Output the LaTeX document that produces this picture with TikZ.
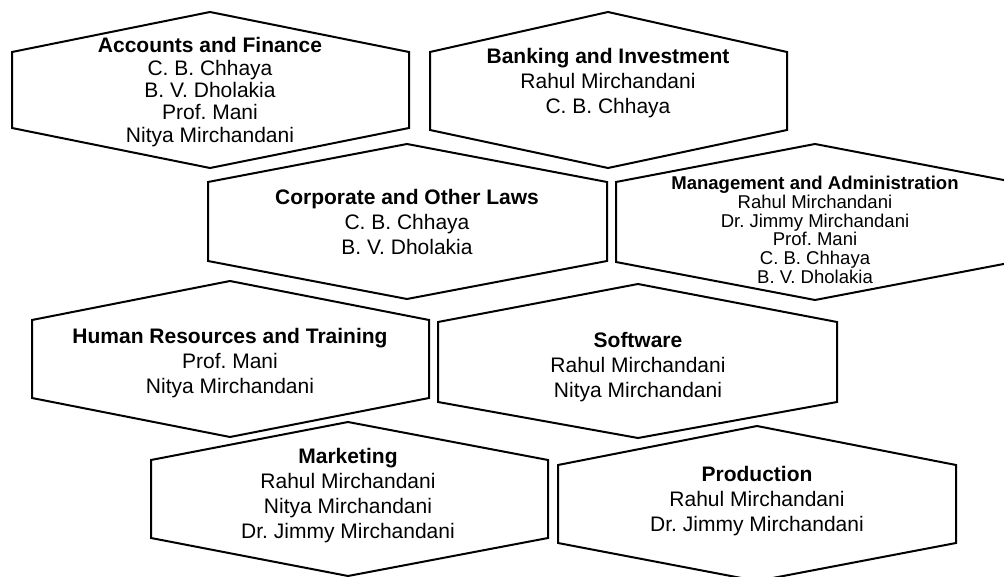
\documentclass[tikz,border=0pt]{standalone}
\usepackage{fontspec}
\setmainfont{Liberation Sans}
\frenchspacing

\tikzset{every picture/.style={line width=0.75pt}}
\tikzset{hexa/.style={line width=1.5, line join=miter},
  hextext/.style={align=center, font=\fontsize{15.75}{18.75}\selectfont},
  hextight/.style={align=center, font=\fontsize{15.75}{16.8}\selectfont},
  hexsmall/.style={align=center, font=\fontsize{13.9}{14}\selectfont}}

\begin{document}
\begin{tikzpicture}[x=0.75pt,y=0.75pt,yscale=-1,xscale=1]
\useasboundingbox (0,0) rectangle (1004,577);
\clip (0,0) rectangle (1004,577);

%Shape: Hexagon (Accounts)
\draw [hexa]  (210,12) -- (409,52) -- (409,128) -- (210,168) -- (12,128) -- (12,52) -- cycle ;
%Shape: Hexagon (Banking)
\draw [hexa]  (608,12) -- (787,52) -- (787,130) -- (608,168) -- (430,130) -- (430,52) -- cycle ;
%Shape: Hexagon (Corporate)
\draw [hexa]  (407,144) -- (607,182) -- (607,261) -- (407,299) -- (208,261) -- (208,182) -- cycle ;
%Shape: Hexagon (Management)
\draw [hexa]  (815,144) -- (1014,182) -- (1014,262) -- (815,300) -- (616,262) -- (616,182) -- cycle ;
%Shape: Hexagon (HR)
\draw [hexa]  (230,281) -- (429,320) -- (429,398) -- (230,437) -- (32,398) -- (32,320) -- cycle ;
%Shape: Hexagon (Software)
\draw [hexa]  (638,284) -- (837,322) -- (837,402) -- (638,438) -- (438,402) -- (438,322) -- cycle ;
%Shape: Hexagon (Marketing)
\draw [hexa]  (348,422) -- (548,460) -- (548,538) -- (348,576) -- (151,538) -- (151,460) -- cycle ;
%Shape: Hexagon (Production)
\draw [hexa]  (757,426) -- (956,465) -- (956,543) -- (757,581) -- (558,543) -- (558,465) -- cycle ;

% Text Node
\draw (210,92) node (acc) [hextight] {\textbf{Accounts and Finance}\\C. B. Chhaya\\B. V. Dholakia\\Prof. Mani\\Nitya Mirchandani};
% Text Node
\draw (608,83) node (bank) [hextext] {\textbf{Banking and Investment}\\Rahul Mirchandani\\C. B. Chhaya};
% Text Node
\draw (407,222) node (corp) [hextext] {\textbf{Corporate and Other Laws}\\C. B. Chhaya\\B. V. Dholakia};
% Text Node
\draw (815,230) node (mgmt) [hexsmall] {\textbf{Management and Administration}\\Rahul Mirchandani\\Dr. Jimmy Mirchandani\\Prof. Mani\\C. B. Chhaya\\B. V. Dholakia};
% Text Node
\draw (230,363) node (hr) [hextext] {\textbf{Human Resources and Training}\\Prof. Mani\\Nitya Mirchandani};
% Text Node
\draw (638,367) node (soft) [hextext] {\textbf{Software}\\Rahul Mirchandani\\Nitya Mirchandani};
% Text Node
\draw (348,496) node (mkt) [hextext] {\textbf{Marketing}\\Rahul Mirchandani\\Nitya Mirchandani\\Dr. Jimmy Mirchandani};
% Text Node
\draw (757,501) node (prod) [hextext] {\textbf{Production}\\Rahul Mirchandani\\Dr. Jimmy Mirchandani};

\end{tikzpicture}
\end{document}
